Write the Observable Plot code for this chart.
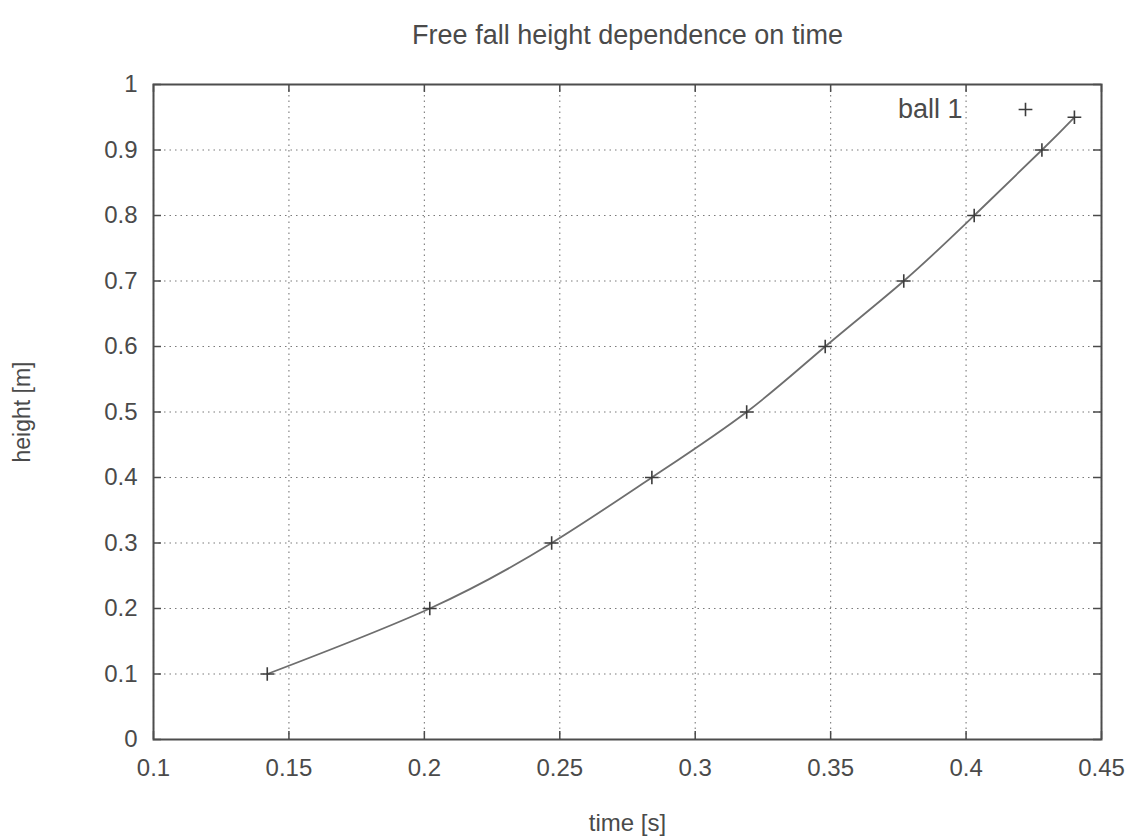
<!DOCTYPE html>
<html>
<head>
<meta charset="utf-8">
<script src="https://cdn.jsdelivr.net/npm/d3@7"></script>
<script src="https://cdn.jsdelivr.net/npm/@observablehq/plot@0.6"></script>
<style>
  html, body { margin: 0; padding: 0; background: #ffffff; }
  #chart { width: 1126px; height: 840px; overflow: hidden; }
</style>
</head>
<body>
<div id="chart"></div>
<script>
// ---- data ----
const seriesName = "ball 1";
const times   = [0.142, 0.202, 0.247, 0.284, 0.319, 0.348, 0.377, 0.403, 0.428, 0.440];
const heights = [0.1, 0.2, 0.3, 0.4, 0.5, 0.6, 0.7, 0.8, 0.9, 0.95];
const xTicks  = [0.1, 0.15, 0.2, 0.25, 0.3, 0.35, 0.4, 0.45];
const yTicks  = [0, 0.1, 0.2, 0.3, 0.4, 0.5, 0.6, 0.7, 0.8, 0.9, 1];
const titleText = "Free fall height dependence on time";
const xLabel = "time [s]";
const yLabel = "height [m]";

const data = times.map((t, i) => ({t, h: heights[i]}));

// ---- layout ----
const W = 1126, H = 840;
const mL = 153, mR = 25, mT = 84, mB = 101;
const frameW = W - mL - mR, frameH = H - mT - mB;
const tickLen = 8;
const ink = "#4a4a4a";
const font = "'Liberation Sans', Arial, sans-serif";

const chart = Plot.plot({
  width: W,
  height: H,
  marginLeft: mL, marginRight: mR, marginTop: mT, marginBottom: mB,
  style: {fontFamily: font, background: "#ffffff", color: ink},
  x: {domain: [0.1, 0.45]},
  y: {domain: [0, 1]},
  marks: [
    Plot.gridX(xTicks, {stroke: "#7a7a7a", strokeOpacity: 1, strokeWidth: 1.1, strokeDasharray: "1.5,4"}),
    Plot.gridY(yTicks, {stroke: "#7a7a7a", strokeOpacity: 1, strokeWidth: 1.1, strokeDasharray: "1.5,4"}),
    // inward ticks on all four sides (gnuplot style)
    Plot.ruleX(xTicks, {x: d => d, insetTop: frameH - tickLen, stroke: ink, strokeWidth: 1.5}),
    Plot.ruleX(xTicks, {x: d => d, insetBottom: frameH - tickLen, stroke: ink, strokeWidth: 1.5}),
    Plot.ruleY(yTicks, {y: d => d, insetRight: frameW - tickLen, stroke: ink, strokeWidth: 1.5}),
    Plot.ruleY(yTicks, {y: d => d, insetLeft: frameW - tickLen, stroke: ink, strokeWidth: 1.5}),
    Plot.frame({stroke: "#4d4d4d", strokeWidth: 2}),
    Plot.axisX({anchor: "bottom", ticks: xTicks, tickSize: 0, tickPadding: 19, tickFormat: d => String(d),
                fontSize: 24, label: null, color: ink}),
    Plot.axisY({anchor: "left", ticks: yTicks, tickSize: 0, tickPadding: 16, tickFormat: d => String(d),
                fontSize: 24, label: null, color: ink}),
    // smooth line through the measurements
    Plot.line(data, {x: "t", y: "h", curve: "natural", stroke: "#6e6e6e", strokeWidth: 1.8}),
    // measured points
    Plot.dot(data, {x: "t", y: "h", symbol: "plus", r: 4.5, stroke: "#3c3c3c", strokeWidth: 1.6}),
    // legend
    Plot.text([seriesName], {text: d => d, frameAnchor: "top-right", dx: -139, dy: 25,
                             textAnchor: "end", lineAnchor: "middle", fontSize: 27, fill: ink}),
    Plot.dot([seriesName], {frameAnchor: "top-right", dx: -76, dy: 25, symbol: "plus", r: 4.5,
                            stroke: "#3c3c3c", strokeWidth: 1.6}),
    // titles
    Plot.text([titleText], {text: d => d, frameAnchor: "top", dy: -49, textAnchor: "middle",
                            lineAnchor: "middle", fontSize: 27, fill: ink}),
    Plot.text([xLabel], {text: d => d, frameAnchor: "bottom", dy: 84, textAnchor: "middle",
                         lineAnchor: "middle", fontSize: 24, fill: ink}),
    Plot.text([yLabel], {text: d => d, frameAnchor: "left", dx: -131, rotate: -90, textAnchor: "middle",
                         lineAnchor: "middle", fontSize: 23, fill: ink})
  ]
});
document.getElementById("chart").appendChild(chart);
</script>
</body>
</html>
